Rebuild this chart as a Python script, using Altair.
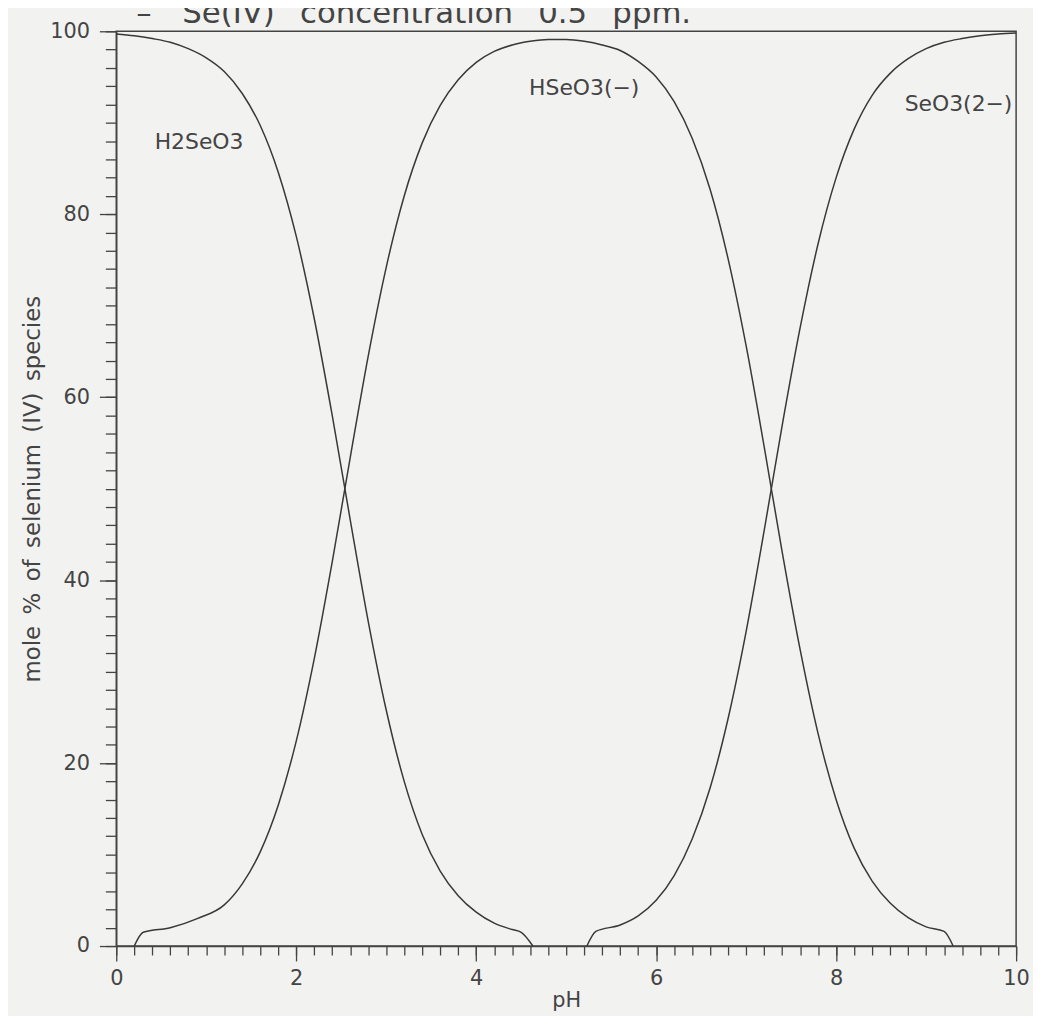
import altair as alt
import pandas as pd

# ---- data ----
ph_h2seo3 = [0.0, 0.2, 0.4, 0.6, 0.8, 1.0, 1.2, 1.4, 1.6, 1.8, 2.0, 2.2, 2.4, 2.6, 2.8,
             3.0, 3.2, 3.4, 3.6, 3.8, 4.0, 4.2, 4.4, 4.5, 4.63]
h2seo3 = [99.7, 99.5, 99.2, 98.8, 98.1, 97.1, 95.6, 93.2, 89.7, 84.6, 77.6, 68.6, 58.0, 46.6, 35.5,
          25.8, 18.0, 12.2, 8.2, 5.5, 3.7, 2.5, 1.8, 1.5, 0.0]

ph_hseo3 = [0.2, 0.3, 0.6, 0.9, 1.2, 1.4, 1.6, 1.8, 2.0, 2.2, 2.4, 2.6, 2.8, 3.0, 3.2, 3.4,
            3.6, 3.8, 4.0, 4.2, 4.4, 4.6, 4.8, 5.0, 5.2, 5.4, 5.6, 5.8, 6.0, 6.2, 6.4, 6.6,
            6.8, 7.0, 7.2, 7.4, 7.6, 7.8, 8.0, 8.2, 8.4, 8.6, 8.8, 9.0, 9.2, 9.3]
hseo3 = [0.0, 1.5, 2.0, 3.0, 4.5, 6.8, 10.3, 15.4, 22.4, 31.4, 42.0, 53.4, 64.5, 74.2, 82.0, 87.8,
         91.9, 94.7, 96.6, 97.8, 98.5, 98.9, 99.1, 99.1, 98.9, 98.5, 97.9, 96.7, 95.0, 92.3, 88.3, 82.7,
         75.1, 65.6, 54.6, 43.1, 32.4, 23.2, 16.0, 10.7, 7.1, 4.7, 3.1, 2.1, 1.6, 0.0]

ph_seo3 = [5.23, 5.33, 5.6, 5.8, 6.0, 6.2, 6.4, 6.6, 6.8, 7.0, 7.2, 7.4, 7.6, 7.8, 8.0, 8.2,
           8.4, 8.6, 8.8, 9.0, 9.2, 9.4, 9.6, 9.8, 10.0]
seo3 = [0.0, 1.6, 2.3, 3.3, 5.0, 7.7, 11.7, 17.3, 24.9, 34.4, 45.4, 56.9, 67.6, 76.8, 84.0, 89.3,
        93.0, 95.4, 97.0, 98.1, 98.8, 99.2, 99.5, 99.7, 99.8]

label_names = ["H2SeO3", "HSeO3(\u2212)", "SeO3(2\u2212)"]
label_ph = [0.92, 5.2, 9.36]
label_pct = [87.9, 93.8, 92.1]

major_x = [0, 2, 4, 6, 8, 10]
minor_x = [round(i * 0.2, 1) for i in range(51)]
major_y = [0, 20, 40, 60, 80, 100]
minor_y = [i * 2 for i in range(51)]

title_text = ["\u2013\u2003Se(IV)\u2002\u00a0concentration\u2002\u00a00.5\u2002\u00a0ppm."]
y_title = "mole\u2002%\u2002of\u2002selenium\u2002(IV)\u2002species"

rows = []
for name, xs, ys in [("H2SeO3", ph_h2seo3, h2seo3), ("HSeO3-", ph_hseo3, hseo3), ("SeO3--", ph_seo3, seo3)]:
    for x, y in zip(xs, ys):
        rows.append({"species": name, "pH": x, "pct": y})
df = pd.DataFrame(rows)
labels_df = pd.DataFrame({"label": label_names, "pH": label_ph, "pct": label_pct})
title_df = pd.DataFrame({"t": title_text})

FONT = "DejaVu Sans"
INK = "#444444"

xscale = alt.Scale(domain=[0, 10], nice=False)
yscale = alt.Scale(domain=[0, 100], nice=False)

lines = alt.Chart(df).mark_line(color="#383838", strokeWidth=1.5, interpolate="monotone").encode(
    x=alt.X("pH:Q", scale=xscale, axis=alt.Axis(
        orient="bottom", values=major_x, tickSize=15, tickWidth=1.3, tickColor=INK,
        domainColor=INK, domainWidth=1.5, grid=False, labelFont=FONT, labelFontSize=21,
        labelColor=INK, labelPadding=7, labelFlush=False, title="pH", titleFont=FONT,
        titleFontSize=21, titleFontWeight="normal", titleColor=INK, titleY=55,
        titleBaseline="middle")),
    y=alt.Y("pct:Q", scale=yscale, axis=alt.Axis(
        orient="left", values=major_y, tickSize=17, tickWidth=1.3, tickColor=INK,
        domainColor=INK, domainWidth=1.5, grid=False, labelFont=FONT, labelFontSize=21,
        labelColor=INK, labelPadding=10, labelFlush=False, title=y_title, titleFont=FONT,
        titleFontSize=23, titleFontWeight="normal", titleColor=INK, titleX=-84, titleY=460.5,
        titleBaseline="middle", titleAngle=270)),
    detail="species:N",
)

texts = alt.Chart(labels_df).mark_text(font=FONT, fontSize=22, color=INK, align="center",
                                       baseline="middle").encode(
    x=alt.X("pH:Q", scale=xscale, axis=alt.Axis(
        orient="bottom", values=minor_x, tickSize=9, tickWidth=1.3, tickColor=INK,
        labels=False, domain=False, grid=False, title="")),
    y=alt.Y("pct:Q", scale=yscale, axis=alt.Axis(
        orient="left", values=minor_y, tickSize=11, tickWidth=1.3, tickColor=INK,
        labels=False, domain=False, grid=False, title="")),
    text="label:N",
)

head = alt.Chart(title_df).mark_text(font=FONT, fontSize=31, color=INK, align="left",
                                     baseline="alphabetic").encode(
    x=alt.value(20), y=alt.value(-8), text="t:N")

chart = alt.layer(lines, texts, head).resolve_axis(x="independent", y="independent").properties(
    width=906, height=921,
    autosize=alt.AutoSizeParams(type="none"),
    padding={"left": 109, "top": 20, "right": 17, "bottom": 67},
    background="#f2f2f0",
).configure_view(stroke=INK, strokeWidth=1.5)

chart.save("out.html", embed_options={"renderer": "svg", "actions": False})
